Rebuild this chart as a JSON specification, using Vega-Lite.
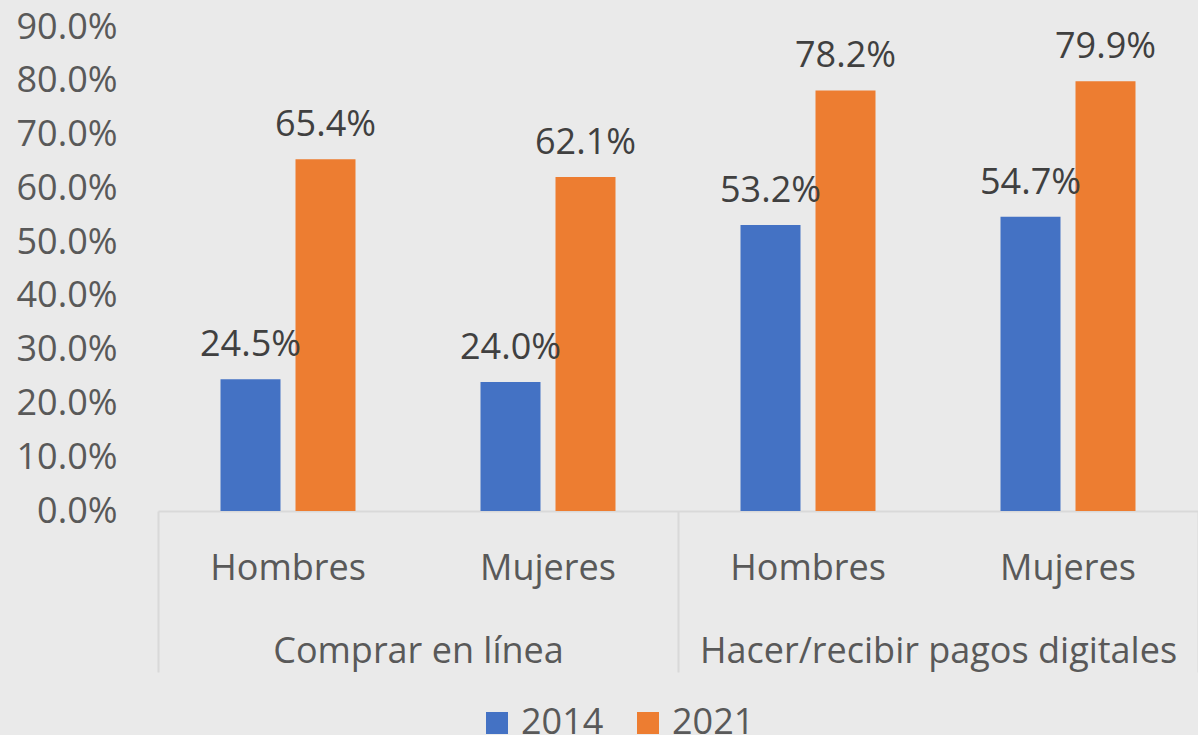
{
  "$schema": "https://vega.github.io/schema/vega-lite/v6.json",
  "width": 1040,
  "height": 484,
  "autosize": {"type": "none"},
  "padding": {"left": 158, "top": 27, "right": 0, "bottom": 224},
  "background": "#eaeaea",
  "config": {"view": {"stroke": null}, "font": "Open Sans"},
  "data": {
    "values": [
      {"grupo": "Comprar en línea", "sexo": "Hombres", "pos": "Comprar en línea|Hombres", "anio": "2014", "valor": 0.245},
      {"grupo": "Comprar en línea", "sexo": "Hombres", "pos": "Comprar en línea|Hombres", "anio": "2021", "valor": 0.654},
      {"grupo": "Comprar en línea", "sexo": "Mujeres", "pos": "Comprar en línea|Mujeres", "anio": "2014", "valor": 0.240},
      {"grupo": "Comprar en línea", "sexo": "Mujeres", "pos": "Comprar en línea|Mujeres", "anio": "2021", "valor": 0.621},
      {"grupo": "Hacer/recibir pagos digitales", "sexo": "Hombres", "pos": "Hacer/recibir pagos digitales|Hombres", "anio": "2014", "valor": 0.532},
      {"grupo": "Hacer/recibir pagos digitales", "sexo": "Hombres", "pos": "Hacer/recibir pagos digitales|Hombres", "anio": "2021", "valor": 0.782},
      {"grupo": "Hacer/recibir pagos digitales", "sexo": "Mujeres", "pos": "Hacer/recibir pagos digitales|Mujeres", "anio": "2014", "valor": 0.547},
      {"grupo": "Hacer/recibir pagos digitales", "sexo": "Mujeres", "pos": "Hacer/recibir pagos digitales|Mujeres", "anio": "2021", "valor": 0.799}
    ]
  },
  "resolve": {"scale": {"x": "independent"}, "axis": {"x": "independent"}},
  "layer": [
    {
      "encoding": {
        "x": {
          "field": "pos", "type": "nominal", "sort": null,
          "scale": {"paddingInner": 0.4808, "paddingOuter": 0.2404},
          "axis": {
            "orient": "bottom", "title": null, "domain": true, "domainColor": "#d9d9d9", "domainWidth": 2,
            "ticks": false, "labelExpr": "split(datum.label, '|')[1]", "labelAngle": 0,
            "labelFontSize": 36, "labelColor": "#595959", "labelPadding": 40
          }
        },
        "xOffset": {"field": "anio", "type": "nominal", "scale": {"paddingInner": 0.2, "paddingOuter": 0}},
        "y": {
          "field": "valor", "type": "quantitative",
          "scale": {"domain": [0, 0.9], "nice": false},
          "axis": {
            "title": null, "domain": false, "ticks": false, "grid": false, "format": ".1%",
            "values": [0, 0.1, 0.2, 0.3, 0.4, 0.5, 0.6, 0.7, 0.8, 0.9],
            "labelFontSize": 36, "labelColor": "#595959", "labelPadding": 41
          }
        }
      },
      "layer": [
        {
          "mark": {"type": "bar"},
          "encoding": {
            "color": {
              "field": "anio", "type": "nominal",
              "scale": {"domain": ["2014", "2021"], "range": ["#4472C4", "#ED7D31"]},
              "legend": {
                "orient": "none", "legendX": 321, "legendY": 678, "direction": "horizontal", "title": null,
                "symbolType": "square", "symbolSize": 484, "symbolStrokeWidth": 0, "symbolOpacity": 1,
                "labelFontSize": 36, "labelColor": "#595959", "labelOffset": 6, "columnPadding": 26
              }
            }
          }
        },
        {
          "mark": {"type": "text", "dy": -23, "baseline": "alphabetic", "fontSize": 36, "color": "#404040"},
          "encoding": {"text": {"field": "valor", "type": "quantitative", "format": ".1%"}}
        }
      ]
    },
    {
      "mark": {"type": "bar", "opacity": 0},
      "encoding": {
        "x": {
          "field": "grupo", "type": "nominal", "sort": null,
          "scale": {"paddingInner": 0, "paddingOuter": 0},
          "axis": {
            "orient": "bottom", "title": null, "domain": false, "ticks": true, "tickBand": "extent",
            "tickColor": "#d9d9d9", "tickWidth": 2, "tickSize": 161, "labelAngle": 0, "labelLimit": 1000,
            "labelFontSize": 36, "labelColor": "#595959", "labelPadding": -38
          }
        },
        "y": {"field": "valor", "type": "quantitative"}
      }
    }
  ]
}
